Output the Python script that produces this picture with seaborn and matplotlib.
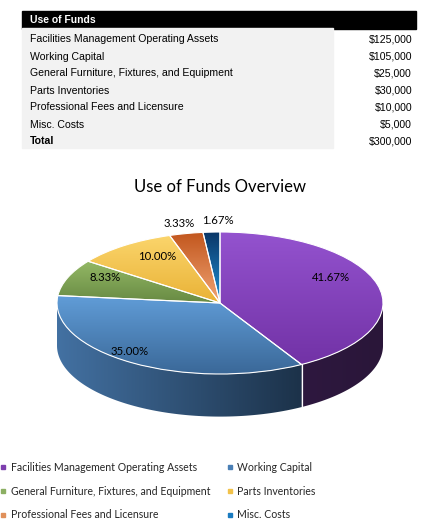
import numpy as np
import matplotlib
matplotlib.use("Agg")
import matplotlib.pyplot as plt
import seaborn as sns
from matplotlib.patches import Rectangle, Polygon
from matplotlib.lines import Line2D
from matplotlib.colors import LinearSegmentedColormap
from matplotlib.transforms import offset_copy

# data
categories = ["Facilities Management Operating Assets", "Working Capital",
              "General Furniture, Fixtures, and Equipment", "Parts Inventories",
              "Professional Fees and Licensure", "Misc. Costs"]
amounts = [125000, 105000, 25000, 30000, 10000, 5000]
table_title = "Use of Funds"
total_label = "Total"
chart_title = "Use of Funds Overview"

# colours: (top, bottom) shade of each slice, legend swatches, side walls
top_shades = [("#9453cf", "#7232a6"), ("#619dd8", "#3a6898"),
              ("#93b865", "#688a43"), ("#fbd56c", "#e9b236"),
              ("#c2561d", "#f0a474"), ("#0a3566", "#1f92d6")]
legend_cols = ["#7d3fae", "#4a7fb5", "#8caf63", "#f2c24a", "#e0905a", "#1a7bc0"]
side_shades = [("#3a1f52", "#2a1639"), ("#4371a2", "#0f1d2c"),
               ("#5a7838", "#3c5226"), ("#c89a2a", "#8a6a1c"),
               ("#a8481a", "#7a3312"), ("#0a3566", "#06203e")]
# label placement: radius along the slice middle, then a nudge in pixels
label_r = [0.74, 0.9, 0.78, 0.74, 1.11, 1.11]
label_dx = [-6, -10, 4, 8, -3, 7]
label_dy = [12, 5, 6, 4, 2, 4]

sns.set_theme(style="white")
plt.rcParams["font.family"] = ["Lato", "DejaVu Sans"]

W, H = 429, 531
fig = plt.figure(figsize=(W / 100, H / 100), dpi=100)


def fx(px):
    return px / W


def fy(py):
    return 1 - py / H


#----------------------------------------------------------------------------#
# table

tbl_font = ["Liberation Sans", "DejaVu Sans"]
fig.patches.append(Rectangle((fx(22), fy(28.5)), fx(416) - fx(22), 17.5 / H,
                             transform=fig.transFigure, color="black", zorder=0))
fig.patches.append(Rectangle((fx(22), fy(148)), fx(333) - fx(22), 119.5 / H,
                             transform=fig.transFigure, color="#f2f2f2", zorder=0))
fig.text(fx(30), fy(20), table_title, color="white", fontweight="bold",
         fontsize=7.5, family=tbl_font, va="center")
row_y = 39.5
for name, val in zip(categories + [total_label], amounts + [sum(amounts)]):
    bold = "bold" if name == total_label else "normal"
    fig.text(fx(30), fy(row_y), name, fontsize=7.6, family=tbl_font,
             va="center", color="black", fontweight=bold)
    fig.text(fx(412), fy(row_y), "${:,}".format(val), fontsize=7.6,
             family=tbl_font, va="center", ha="right", color="black")
    row_y += 17

#----------------------------------------------------------------------------#
# 3D-looking pie

fig.text(fx(220), fy(187), chart_title, fontsize=12, ha="center", va="center",
         color="black")

ax = fig.add_axes([fx(40), fy(432), fx(400) - fx(40), 230 / H])
wedges, _, pcts = ax.pie(amounts, startangle=90, counterclock=False,
                         colors=legend_cols, autopct="%.2f%%",
                         wedgeprops=dict(edgecolor="white", linewidth=0.8),
                         textprops=dict(fontsize=8.2, color="black"))
depth = 0.6
hgrad = np.linspace(0, 1, 256).reshape(1, -1)
vgrad = hgrad.T

# side walls: the front arc of each slice pushed down, shaded left to right
for w, (c0, c1) in zip(wedges, side_shades):
    for k in (-360, 0, 360):
        a0 = max(w.theta1, -180 + k)
        a1 = min(w.theta2, 0 + k)
        if a1 <= a0:
            continue
        ang = np.radians(np.linspace(a0, a1, 100))
        top = np.column_stack([np.cos(ang), np.sin(ang)])
        bot = top[::-1] - [0, depth]
        wall = Polygon(np.vstack([top, bot]), closed=True, facecolor="none",
                       edgecolor="none")
        ax.add_patch(wall)
        cmap = LinearSegmentedColormap.from_list("s", [c0, c1])
        im = ax.imshow(hgrad, extent=(-1, 1, -1 - depth, 1), cmap=cmap,
                       aspect="auto", zorder=0.5)
        im.set_clip_path(wall)
        # white seam on the front where two slices meet
        for edge in (a0, a1):
            if -179 + k < edge < -1 + k:
                r = np.radians(edge)
                ax.plot([np.cos(r)] * 2, [np.sin(r), np.sin(r) - depth],
                        color="white", lw=0.8, zorder=0.6)

# top face gradients, each stretched over its own slice
for w, (c0, c1) in zip(wedges, top_shades):
    ext = w.get_path().get_extents()
    cmap = LinearSegmentedColormap.from_list("g", [c0, c1])
    im = ax.imshow(vgrad, extent=(ext.x0, ext.x1, ext.y0, ext.y1), cmap=cmap,
                   aspect="auto", origin="upper", zorder=1)
    im.set_clip_path(w)
    w.set_facecolor("none")
    w.set_zorder(2)

for w, txt, r, dx, dy in zip(wedges, pcts, label_r, label_dx, label_dy):
    mid = np.radians((w.theta1 + w.theta2) / 2)
    txt.set_position((r * np.cos(mid), r * np.sin(mid)))
    txt.set_transform(offset_copy(ax.transData, fig=fig, x=dx, y=dy,
                                  units="dots"))
    txt.set_zorder(3)

ax.set_aspect("auto")
ax.set_xlim(-180 / 163, 180 / 163)
ax.set_ylim(-129 / 71, 101 / 71)
ax.axis("off")

#----------------------------------------------------------------------------#
# legend, filled row by row

order = [0, 2, 4, 1, 3, 5]
handles = [Line2D([], [], marker="s", linestyle="none", markersize=3,
                  color=legend_cols[i]) for i in order]
fig.legend(handles, [categories[i] for i in order], ncol=2, frameon=False,
           loc="upper left", bbox_to_anchor=(0, fy(462)), borderaxespad=0,
           borderpad=0, fontsize=7.6, handlelength=0.5, handletextpad=0.5,
           labelspacing=1.2, columnspacing=1.6)

plt.savefig("out.png", dpi=100)
